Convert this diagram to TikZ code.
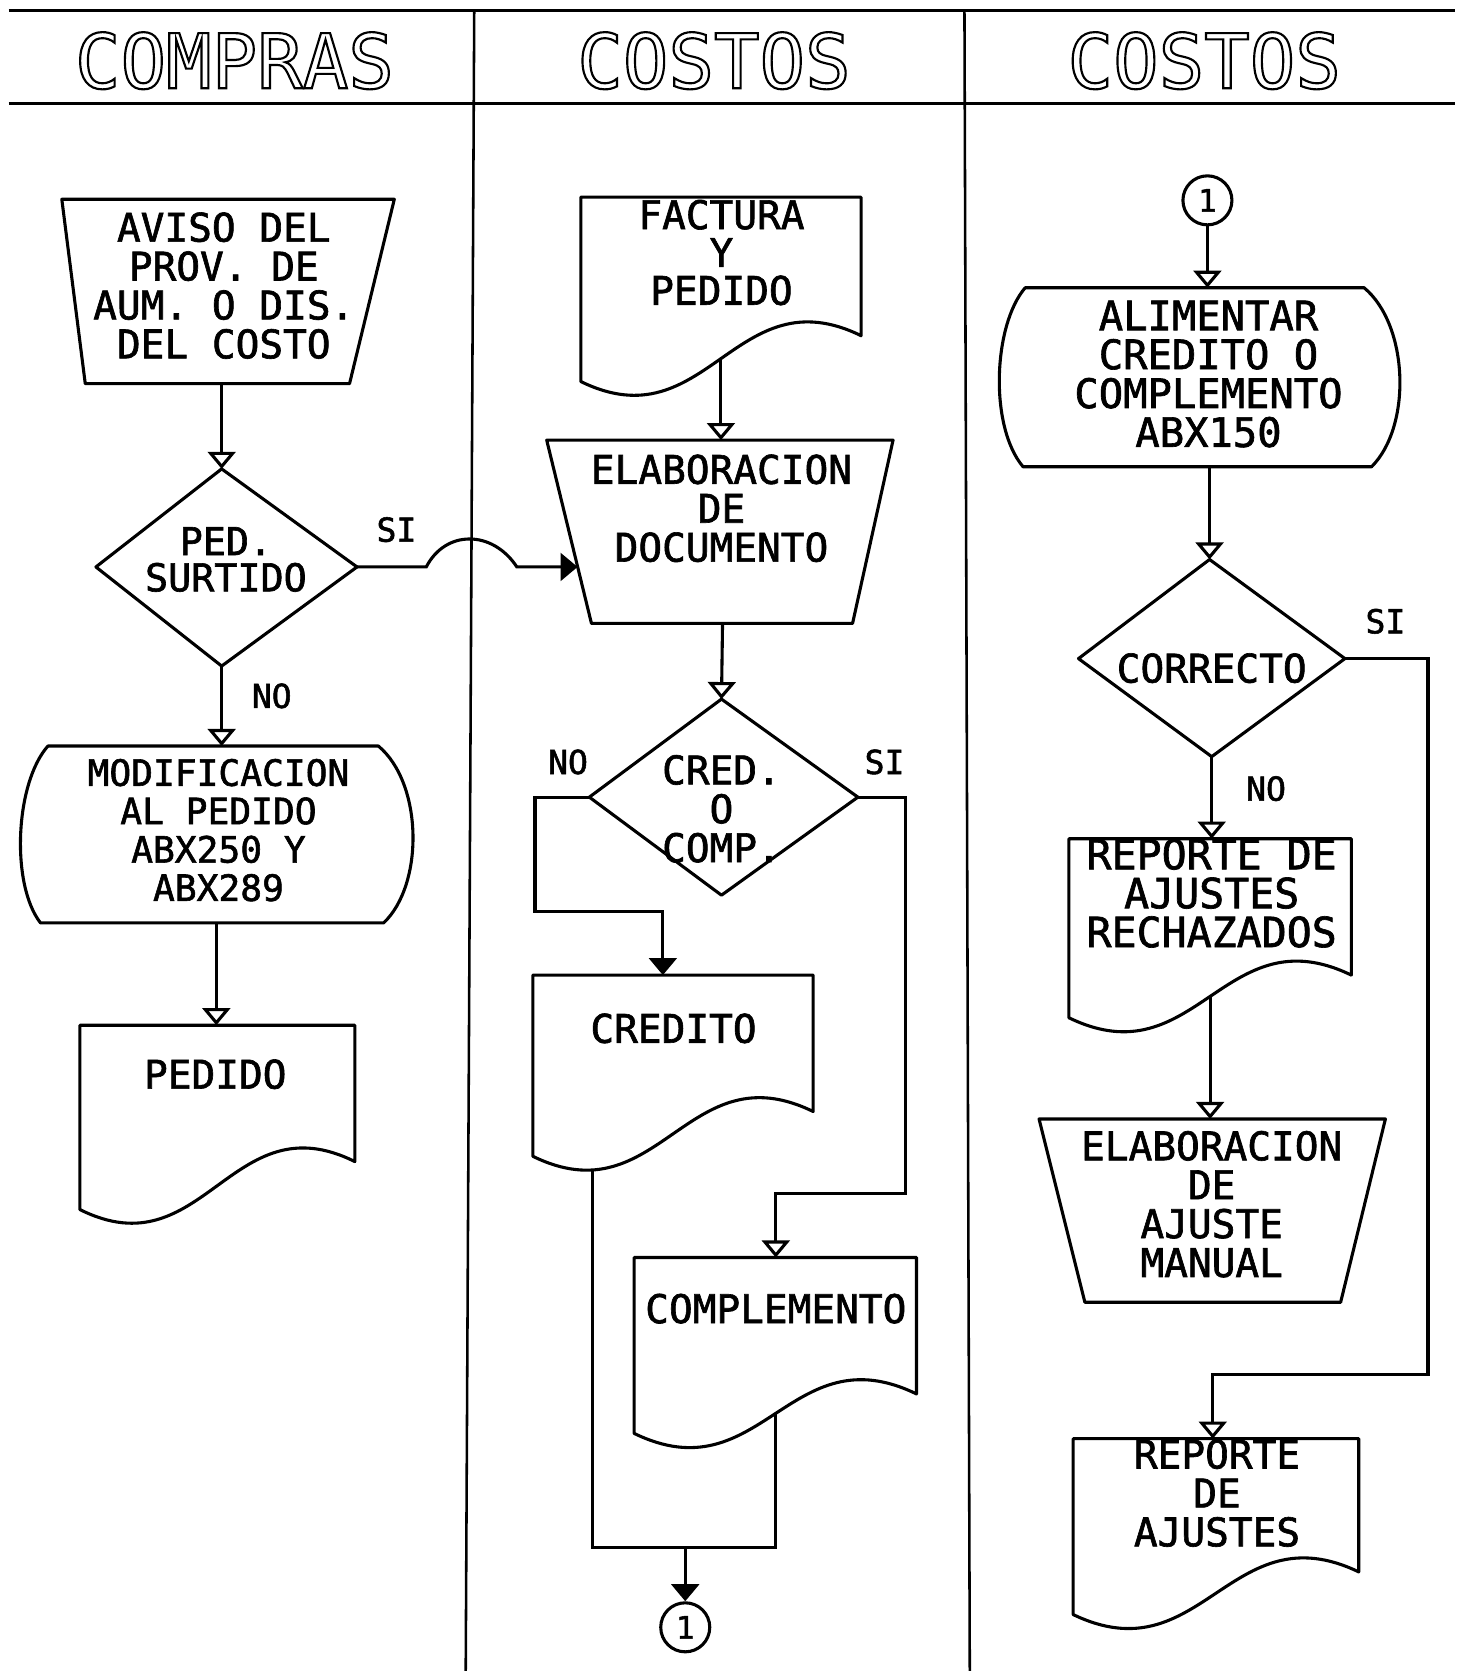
\documentclass[tikz,border=0pt]{standalone}
\usepackage{fontspec}
\newfontfamily\plotfont[FakeBold=1.6]{DejaVu Sans Mono}
\newfontfamily\headfont{DejaVu Sans Mono}
\usetikzlibrary{arrows.meta}
\newcommand{\hollowtext}[1]{\special{pdf:literal direct q 1 Tr 2 w}#1\special{pdf:literal direct Q}}
% document symbol: name, L, R, top, yRight, yLeft
\newcommand{\flowdoc}[6]{%
  \draw[shp] (#2,#4) -- (#3,#4) -- (#3,#5)
    .. controls ({#2+0.55*(#3-#2)},{#5-58}) and ({#2+0.45*(#3-#2)},{#6+58}) .. (#2,#6)
    coordinate[pos=0.5] (#1-mid) coordinate[pos=0.82] (#1-low) -- cycle;}
\tikzset{
  shp/.style={line width=2.9pt, line join=round},
  wire/.style={line width=2.9pt},
  flow/.style={wire, -{Triangle[open, length=16pt, width=26pt]}},
  flowf/.style={wire, -{Triangle[length=16pt, width=26pt]}},
  txt/.style={font=\plotfont\fontsize{37}{36.5}\selectfont, align=center, inner sep=0pt},
  tag/.style={font=\plotfont\fontsize{31}{31}\selectfont, inner sep=0pt},
  ttl/.style={font=\headfont\fontsize{71}{71}\selectfont, inner sep=0pt},
  conn/.style={circle, draw, line width=2.9pt, minimum size=46pt, inner sep=0pt,
    font=\plotfont\fontsize{29}{29}\selectfont},
}
\begin{document}
\begin{tikzpicture}[x=1pt,y=-1pt]
\useasboundingbox (0,0) rectangle (1371,1568);
\fill[white] (0,0) rectangle (1371,1568);

% ---------------- header and lanes
\draw[wire] (8,10) -- (1365,10);
\draw[wire] (8,97) -- (1365,97);
\draw[line width=2.4pt] (445,10) -- (437,1568);
\draw[line width=2.4pt] (905,10) -- (910,1568);
\node[ttl] (t1) at (220,57) {\hollowtext{COMPRAS}};
\node[ttl] (t2) at (670,57) {\hollowtext{COSTOS}};
\node[ttl] (t3) at (1130,57) {\hollowtext{COSTOS}};

% ---------------- column 1 : COMPRAS
\draw[shp] (58,187) -- (370,187) -- (328,360) -- (80,360) -- cycle;
\node[txt] (aviso) at (210,268) {AVISO DEL\\PROV. DE\\AUM. O DIS.\\DEL COSTO};
\coordinate (aviso-s) at (208,360);

\coordinate (d1-n) at (208,440);
\coordinate (d1-e) at (335,532);
\coordinate (d1-s) at (208,625);
\coordinate (d1-w) at (90,532);
\draw[shp] (d1-n) -- (d1-e) -- (d1-s) -- (d1-w) -- cycle;
\node[txt, font=\plotfont\fontsize{36}{34}\selectfont] (pedsurt) at (212,525) {PED.\\SURTIDO};

\draw[shp] (45,700) -- (355,700) .. controls (397,735) and (398,830) .. (360,866)
  -- (38,866) .. controls (10,830) and (14,735) .. (45,700) -- cycle;
\node[txt, font=\plotfont\fontsize{34}{36}\selectfont] (modif) at (205,779) {MODIFICACION\\AL PEDIDO\\ABX250 Y\\ABX289};
\coordinate (mod-n) at (208,700);
\coordinate (mod-s) at (203,866);

\flowdoc{pedd}{75}{333}{962}{1090}{1135}
\node[txt] (pedido) at (202,1008) {PEDIDO};
\coordinate (pedd-n) at (203,962);

\node[tag] (si1) at (372,497) {SI};
\node[tag] (no1) at (255,653) {NO};

\draw[flow] (aviso-s) -- (d1-n);
\draw[flow] (d1-s) -- (mod-n);
\draw[flow] (mod-s) -- (pedd-n);

% ---------------- column 2 : COSTOS
\flowdoc{fac}{545}{808}{185}{315}{358}
\node[txt, font=\plotfont\fontsize{37}{35.5}\selectfont] (factura) at (677,237) {FACTURA\\Y\\PEDIDO};

\draw[shp] (513,413) -- (838,413) -- (800,585) -- (555,585) -- cycle;
\node[txt] (elabdoc) at (677,477) {ELABORACION\\DE\\DOCUMENTO};
\coordinate (elab-n) at (678,413);
\coordinate (elab-s) at (678,585);
\coordinate (elab-w) at (542,532);

\coordinate (d2-n) at (677,656);
\coordinate (d2-e) at (805,748);
\coordinate (d2-s) at (677,840);
\coordinate (d2-w) at (553,748);
\draw[shp] (d2-n) -- (d2-e) -- (d2-s) -- (d2-w) -- cycle;
\node[txt] (credcomp) at (677,759) {CRED.\\O\\COMP.};

\flowdoc{cred}{500}{763}{915}{1043}{1085}
\node[txt] (credito) at (632,965) {CREDITO};
\coordinate (cred-n) at (622,915);

\flowdoc{comp}{595}{860}{1180}{1308}{1345}
\node[txt] (complem) at (728,1228) {COMPLEMENTO};
\coordinate (comp-n) at (728,1180);

\coordinate (merge) at (643,1452);
\node[conn] (c1b) at (643,1527) {1};

\node[tag] (no2) at (533,715) {NO};
\node[tag] (si2) at (830,715) {SI};

\draw[flowf] (d1-e) -- (400,532) .. controls (418,497) and (462,497) .. (485,532) -- (elab-w);
\draw[flow] (fac-mid) -- (fac-mid |- elab-n);
\draw[flow] (elab-s) -- (d2-n);
\draw[flowf] (d2-w) -- (502,748) -- (502,855) -- (622,855) -- (cred-n);
\draw[flow] (d2-e) -- (850,748) -- (850,1120) -- (728,1120) -- (comp-n);
\draw[wire] (cred-low) |- (merge);
\draw[wire] (comp-mid) |- (merge);
\draw[flowf] (merge) -- (c1b);

% ---------------- column 3 : COSTOS
\node[conn] (c1a) at (1133,188) {1};

\draw[shp] (962,270) -- (1280,270) .. controls (1322,305) and (1325,400) .. (1287,438)
  -- (960,438) .. controls (928,400) and (932,305) .. (962,270) -- cycle;
\node[txt, font=\plotfont\fontsize{38}{36.5}\selectfont] (alim) at (1134,351) {ALIMENTAR\\CREDITO O\\COMPLEMENTO\\ABX150};
\coordinate (alim-n) at (1133,270);
\coordinate (alim-s) at (1135,438);

\coordinate (d3-n) at (1135,525);
\coordinate (d3-e) at (1262,618);
\coordinate (d3-s) at (1137,710);
\coordinate (d3-w) at (1012,618);
\draw[shp] (d3-n) -- (d3-e) -- (d3-s) -- (d3-w) -- cycle;
\node[txt] (correcto) at (1137,627) {CORRECTO};

\flowdoc{rech}{1003}{1268}{787}{915}{955}
\node[txt, font=\plotfont\fontsize{39}{36.5}\selectfont] (rechtxt) at (1137,838) {REPORTE DE\\AJUSTES\\RECHAZADOS};
\coordinate (rech-n) at (1137,787);

\draw[shp] (975,1050) -- (1300,1050) -- (1258,1222) -- (1018,1222) -- cycle;
\node[txt] (elabaj) at (1137,1130) {ELABORACION\\DE\\AJUSTE\\MANUAL};
\coordinate (eam-n) at (1137,1050);

\flowdoc{rep}{1007}{1275}{1350}{1475}{1515}
\node[txt] (repaj) at (1142,1401) {REPORTE\\DE\\AJUSTES};
\coordinate (rep-n) at (1138,1350);

\node[tag] (si3) at (1300,583) {SI};
\node[tag] (no3) at (1188,740) {NO};

\draw[flow] (c1a) -- (alim-n);
\draw[flow] (alim-s) -- (d3-n);
\draw[flow] (d3-s) -- (rech-n);
\draw[flow] (rech-mid) -- (rech-mid |- eam-n);
\draw[flow] (d3-e) -- (1340,618) -- (1340,1290) -- (1138,1290) -- (rep-n);
\end{tikzpicture}
\end{document}
